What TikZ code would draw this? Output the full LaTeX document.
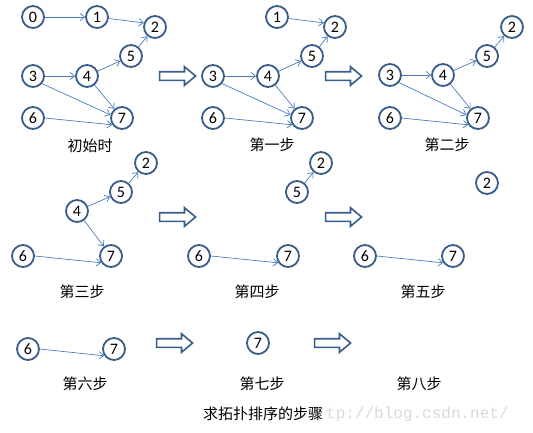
\documentclass[tikz,border=0pt]{standalone}
\usepackage{fontspec}
\newfontfamily\cjk{Noto Sans CJK SC}
\newfontfamily\digitfont{Carlito}
\newfontfamily\markfont{Liberation Mono}
\usetikzlibrary{
  arrows.meta,
  shapes.arrows
}
\definecolor{ringblue}{HTML}{385D8A}
\definecolor{lineblue}{HTML}{4A7EBB}

\begin{document}
\begin{tikzpicture}[
  x=1pt,
  y=-1pt,
  vtx/.style={
    circle,
    draw=ringblue,
    line width=1.8pt,
    fill=white,
    minimum size=22pt,
    inner sep=0pt,
    font=\digitfont\fontsize{16}{16}\selectfont
  },
  steplabel/.style={
    inner sep=0pt,
    font=\cjk\fontsize{15}{18}\selectfont
  },
  fatarrow/.style={
    single arrow,
    draw=ringblue,
    line width=1.6pt,
    fill=white,
    minimum height=36pt,
    inner sep=3.5pt,
    single arrow head extend=5pt,
    single arrow tip angle=80
  },
  wmark/.style={
    inner sep=0pt,
    text=gray!30,
    font=\markfont\fontsize{16}{16}\selectfont
  },
  arrow/.style={
    -{Straight Barb[length=1.6mm,width=2.6mm]},
    lineblue,
    line width=0.7pt
  }
]
\useasboundingbox (0,0) rectangle (533,432);

% --- initial graph ---
\node[vtx] (i0) at (33,17) {0};
\node[vtx] (i1) at (97,17) {1};
\node[vtx] (i2) at (155,27) {2};
\node[vtx] (i5) at (131,56) {5};
\node[vtx] (i3) at (33,76) {3};
\node[vtx] (i4) at (87,76) {4};
\node[vtx] (i6) at (33,118) {6};
\node[vtx] (i7) at (122,118) {7};
\node[steplabel] (ilab) at (90,146) {初始时};

% --- step one ---
\node[vtx] (a1) at (277,17) {1};
\node[vtx] (a2) at (335,27) {2};
\node[vtx] (a5) at (312,56) {5};
\node[vtx] (a3) at (213,76) {3};
\node[vtx] (a4) at (268,76) {4};
\node[vtx] (a6) at (213,118) {6};
\node[vtx] (a7) at (302,118) {7};
\node[steplabel] (alab) at (272,145) {第一步};

% --- step two ---
\node[vtx] (b2) at (512,27) {2};
\node[vtx] (b5) at (487,56) {5};
\node[vtx] (b3) at (390,75) {3};
\node[vtx] (b4) at (443,75) {4};
\node[vtx] (b6) at (390,118) {6};
\node[vtx] (b7) at (478,118) {7};
\node[steplabel] (blab) at (447,145) {第二步};

% --- step three ---
\node[vtx] (c2) at (146,163) {2};
\node[vtx] (c5) at (121,192) {5};
\node[vtx] (c4) at (77,211) {4};
\node[vtx] (c6) at (23,256) {6};
\node[vtx] (c7) at (111,256) {7};
\node[steplabel] (clab) at (82,292) {第三步};

% --- step four ---
\node[vtx] (d2) at (321,163) {2};
\node[vtx] (d5) at (297,192) {5};
\node[vtx] (d6) at (199,256) {6};
\node[vtx] (d7) at (288,256) {7};
\node[steplabel] (dlab) at (257,292) {第四步};

% --- step five ---
\node[vtx] (e2) at (487,183) {2};
\node[vtx] (e6) at (365,256) {6};
\node[vtx] (e7) at (453,256) {7};
\node[steplabel] (elab) at (423,292) {第五步};

% --- steps six to eight ---
\node[vtx] (f6) at (28,349) {6};
\node[vtx] (f7) at (114,349) {7};
\node[steplabel] (flab) at (85,384) {第六步};

\node[vtx] (g7) at (258,343) {7};
\node[steplabel] (glab) at (262,384) {第七步};

\node[steplabel] (hlab) at (419,384) {第八步};

% --- big hollow arrows between steps ---
\node[fatarrow] (go1) at (175,76) {};
\node[fatarrow] (go2) at (341,76) {};
\node[fatarrow] (go3) at (175,217) {};
\node[fatarrow] (go4) at (341,217) {};
\node[fatarrow] (go5) at (172,343) {};
\node[fatarrow] (go6) at (330,343) {};

% --- caption and watermark ---
\node[wmark,anchor=west] (url) at (326,414) {tp://blog.csdn.net/};
\node[steplabel] (title) at (263,414) {求拓扑排序的步骤};

% --- edges ---
\draw[arrow] (i0) -- (i1);
\draw[arrow] (i1) -- (i2.160);
\draw[arrow] (i3) -- (i4);
\draw[arrow] (i4) -- (i5);
\draw[arrow] (i5) -- (i2);
\draw[arrow] (i4) -- (i7);
\draw[arrow] (i3.320) -- (i7.165);
\draw[arrow] (i6.east) -- (i7.215);

\draw[arrow] (a1) -- (a2.160);
\draw[arrow] (a3) -- (a4);
\draw[arrow] (a4) -- (a5);
\draw[arrow] (a5) -- (a2);
\draw[arrow] (a4) -- (a7);
\draw[arrow] (a3.320) -- (a7.165);
\draw[arrow] (a6.east) -- (a7.215);

\draw[arrow] (b3) -- (b4);
\draw[arrow] (b4) -- (b5);
\draw[arrow] (b5) -- (b2);
\draw[arrow] (b4) -- (b7);
\draw[arrow] (b3.320) -- (b7.165);
\draw[arrow] (b6.east) -- (b7.215);

\draw[arrow] (c4) -- (c5);
\draw[arrow] (c5) -- (c2);
\draw[arrow] (c4) -- (c7);
\draw[arrow] (c6.east) -- (c7.215);

\draw[arrow] (d5) -- (d2);
\draw[arrow] (d6.east) -- (d7.215);

\draw[arrow] (e6.east) -- (e7.215);

\draw[arrow] (f6.east) -- (f7.215);

\end{tikzpicture}
\end{document}
